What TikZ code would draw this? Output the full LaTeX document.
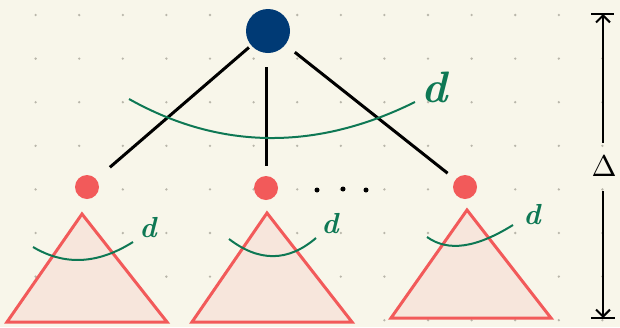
\documentclass[tikz,border=0pt]{standalone}
\usetikzlibrary{arrows.meta}
\definecolor{bgc}{RGB}{248,246,234}
\definecolor{gridc}{RGB}{185,182,170}
\definecolor{rootc}{RGB}{0,58,117}
\definecolor{redc}{RGB}{242,90,90}
\definecolor{pinkc}{RGB}{247,230,220}
\definecolor{greenc}{RGB}{14,120,84}
\begin{document}
\begin{tikzpicture}[x=1pt,y=-1pt,
  rootnode/.style={circle,fill=rootc,minimum size=44pt,inner sep=0pt},
  childnode/.style={circle,fill=redc,minimum size=24pt,inner sep=0pt},
  edge/.style={line width=3pt,black},
  tri/.style={line width=3pt,draw=redc,fill=pinkc,line join=miter},
  garc/.style={line width=2pt,greenc},
  dlabel/.style={text=greenc,inner sep=0pt,font=\itshape\bfseries},
  dimline/.style={line width=2pt,black},
  bdot/.style={circle,fill=black,inner sep=0pt,minimum size=5pt}]
\fill[bgc] (0,0) rectangle (620,327);
\useasboundingbox (0,0) rectangle (620,327);
\foreach \i in {0,...,13} {
  \foreach \j in {0,...,7} {
    \fill[gridc] (35.6+43.6*\i,15+43.6*\j) circle (1.3pt);
  }
}
% triangles
\draw[tri] (82,214) -- (167,322) -- (7,322) -- cycle;
\draw[tri] (267,213) -- (352,322) -- (192,322) -- cycle;
\draw[tri] (467,210) -- (551,318) -- (391,318) -- cycle;
% nodes
\node[rootnode] (root) at (268,31) {};
\node[childnode] (c1) at (87,187) {};
\node[childnode] (c2) at (266,188) {};
\node[childnode] (c3) at (465,187) {};
\node[bdot] (e1) at (317,190) {};
\node[bdot] (e2) at (343,189) {};
\node[bdot] (e3) at (366,190) {};
% edges
\draw[edge,shorten <=3pt,shorten >=18pt] (root) -- (c1);
\draw[edge,shorten <=14pt,shorten >=10pt] (root.south -| c2) -- (c2);
\draw[edge,shorten <=12pt,shorten >=10pt] (root) -- (c3);
% green arcs
\draw[garc] (129,99) .. controls (220,150) and (316,151) .. (415,102);
\node[dlabel,scale=4.4] (dbig) at (434,87) {d};
\draw[garc] (33,247) .. controls (65,266) and (98,264) .. (133,242);
\node[dlabel,scale=2.9] (d1) at (148,228) {d};
\draw[garc] (229,239) .. controls (259,262) and (288,262) .. (316,238);
\node[dlabel,scale=2.9] (d2) at (330,224) {d};
\draw[garc] (427,237) .. controls (448,252) and (476,248) .. (513,225);
\node[dlabel,scale=2.9] (d3) at (532,215) {d};
% dimension
\coordinate (ttop) at (603,14);
\coordinate (tbot) at (603,318);
\node[inner sep=0pt,scale=3] (delta) at (604,166) {$\Delta$};
\draw[dimline] (591,14) -- (614,14);
\draw[dimline] (591,318) -- (615,318);
\draw[dimline,-{Straight Barb[length=7pt,width=14pt]}] (delta.north) ++(-1,-12) -- (ttop);
\draw[dimline,-{Straight Barb[length=7pt,width=14pt]}] (delta.south) ++(-1,14) -- (tbot);
\end{tikzpicture}
\end{document}
